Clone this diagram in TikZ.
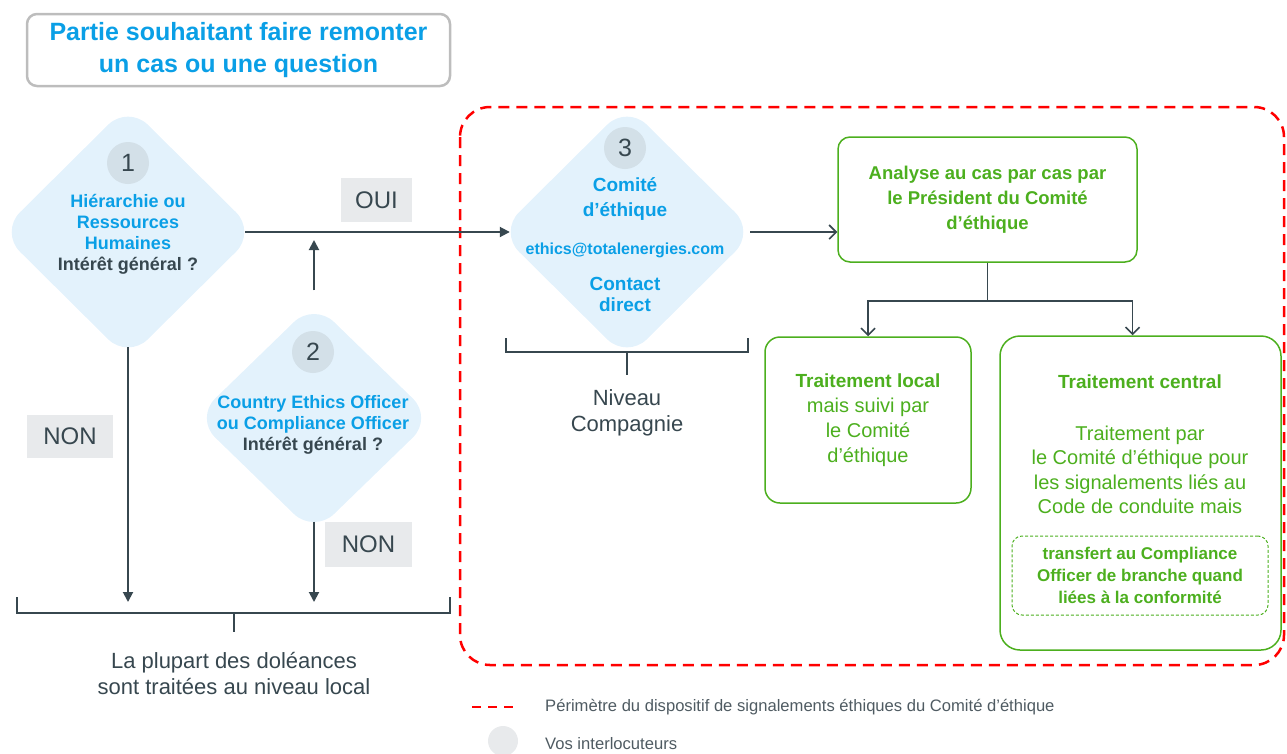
\documentclass[tikz,border=0pt]{standalone}
\usepackage{fontspec}
\setmainfont{Liberation Sans}
\usetikzlibrary{shapes.geometric,arrows.meta,positioning}
\definecolor{bleu}{HTML}{0A9FE6}
\definecolor{gristexte}{HTML}{37474F}
\definecolor{grislegende}{HTML}{4F5B62}
\definecolor{vert}{HTML}{4CAF1E}
\definecolor{losange}{HTML}{E3F2FC}
\definecolor{pastille}{HTML}{D3E0E8}
\definecolor{etiquette}{HTML}{E8EAEC}
\definecolor{cadre}{HTML}{BDBDBD}
\tikzset{
  losangebox/.style={diamond, fill=losange, rounded corners=28pt, inner sep=0pt},
  losangetexte/.style={align=center, text=bleu, font=\bfseries\fontsize{18}{21}\selectfont},
  pastillebox/.style={circle, fill=pastille, minimum size=42pt, inner sep=0pt, text=gristexte, font=\fontsize{25}{25}\selectfont},
  ouinon/.style={fill=etiquette, text=gristexte, font=\fontsize{24}{24}\selectfont, inner sep=0pt},
  titrebox/.style={draw=cadre, line width=2.5pt, rounded corners=10pt, align=center, text=bleu,
    font=\bfseries\fontsize{25}{32}\selectfont, minimum width=423pt, minimum height=72pt},
  vertbox/.style={draw=vert, line width=1.5pt, rounded corners=12pt, text=vert, align=center},
  fleche/.style={draw=gristexte, line width=1.9pt, -{Triangle[length=10pt,width=10pt]}},
  flecheouverte/.style={draw=gristexte, line width=1.6pt, -{Straight Barb[length=7pt,width=14pt]}},
  trait/.style={draw=gristexte, line width=1.9pt},
  perimetre/.style={draw=red, line width=2.5pt, dash pattern=on 11pt off 7pt},
  legende/.style={anchor=west, inner sep=0pt, text=grislegende, font=\fontsize{16.6}{16.6}\selectfont}
}
\begin{document}
\begin{tikzpicture}[x=1pt,y=-1pt]
  \useasboundingbox (0,0) rectangle (1287,753);

  \node[titrebox] (titre) at (238.5,50) {Partie souhaitant faire remonter\\un cas ou une question};

  \draw[perimetre,rounded corners=30pt] (460,107) rectangle (1284,665);

  \node[losangebox,minimum width=256pt,minimum height=254pt] (d1) at (128,232) {};
  \node[losangebox,minimum width=238pt,minimum height=231pt] (d2) at (314,418) {};
  \node[losangebox,minimum width=256pt,minimum height=254pt] (d3) at (627,232) {};

  \node[pastillebox] (p1) at (128,163) {1};
  \node[pastillebox] (p2) at (313,352) {2};
  \node[pastillebox] (p3) at (625,148) {3};

  \node[losangetexte] (t1) at (128,234) {Hiérarchie ou\\Ressources\\Humaines\\\textcolor{gristexte}{Intérêt général ?}};
  \node[losangetexte] (t2) at (313,425) {Country Ethics Officer\\ou Compliance Officer\\\textcolor{gristexte}{Intérêt général ?}};
  \node[losangetexte,font=\bfseries\fontsize{19}{25}\selectfont] (t3a) at (625,199) {Comité\\d’éthique};
  \node[losangetexte,font=\bfseries\fontsize{16}{20}\selectfont] (t3b) at (625,250) {ethics@totalenergies.com};
  \node[losangetexte,font=\bfseries\fontsize{19}{21}\selectfont] (t3c) at (625,294) {Contact\\direct};

  \node[ouinon,minimum width=71pt,minimum height=44pt] (oui) at (376.5,200) {OUI};
  \node[ouinon,minimum width=86pt,minimum height=43pt] (non1) at (70,436.5) {NON};
  \node[ouinon,minimum width=87pt,minimum height=45pt] (non2) at (368.5,544.5) {NON};

  \coordinate (jonction) at (d2.north |- d1.east);
  \coordinate (accolade1) at (234,613);
  \coordinate (accolade2) at (627,352);

  \draw[fleche,shorten <=-11pt,shorten >=-11pt] (d1.east) -- (d3.west);
  \draw[fleche,shorten <=12pt,shorten >=8pt] (d2.north) -- (jonction);
  \draw[fleche,shorten <=-12pt,shorten >=11pt] (d1.south) -- (d1.south |- accolade1);
  \draw[fleche,shorten <=-12pt,shorten >=11pt] (d2.south) -- (d2.south |- accolade1);

  \draw[trait] (17,597) |- (450,613) -- (450,597);
  \draw[trait] (accolade1) -- ++(0,19);
  \node[align=center,text=gristexte,font=\fontsize{22}{26}\selectfont] (plupart) at (234,673) {La plupart des doléances\\sont traitées au niveau local};

  \draw[trait] (506,338) |- (748,352) -- (748,338);
  \draw[trait] (accolade2) -- ++(0,23);
  \node[align=center,text=gristexte,font=\fontsize{22}{26}\selectfont] (niveau) at (627,413) {Niveau\\Compagnie};

  \node[vertbox,font=\bfseries\fontsize{18.5}{25}\selectfont,minimum width=299pt,minimum height=125pt] (analyse) at (987.5,199.5) {Analyse au cas par cas par\\le Président du Comité\\d’éthique};
  \node[vertbox,rounded corners=15pt,minimum width=206pt,minimum height=166pt,font=\fontsize{20}{25}\selectfont] (local) at (868,420) {{\bfseries\fontsize{19}{25}\selectfont Traitement local}\\mais suivi par\\le Comité\\d’éthique};
  \node[vertbox,rounded corners=20pt,minimum width=281pt,minimum height=314pt] (central) at (1140.5,493) {};
  \node[text=vert,font=\bfseries\fontsize{19}{24}\selectfont] (centraltitre) at (1140,382) {Traitement central};
  \node[text=vert,align=center,font=\fontsize{20}{24.5}\selectfont] (centraltexte) at (1140,470) {Traitement par\\le Comité d’éthique pour\\les signalements liés au\\Code de conduite mais};
  \node[vertbox,line width=1pt,dash pattern=on 3pt off 2pt,rounded corners=10pt,minimum width=256pt,minimum height=79pt,font=\bfseries\fontsize{17}{22}\selectfont] (transfert) at (1140,575.5) {transfert au Compliance\\Officer de branche quand\\liées à la conformité};

  \draw[flecheouverte,shorten <=-5pt] (d3.east) -- (d3.east -| analyse.west);
  \draw[trait,line width=1.7pt] (analyse.south) -- ++(0,38) coordinate (fourche);
  \draw[flecheouverte] (fourche) -| (local.north);
  \draw[flecheouverte] (fourche) -| ([xshift=-8pt]central.north);

  \coordinate (legende1a) at (472,707);
  \coordinate (legende1b) at (514,707);
  \draw[perimetre,dash pattern=on 9pt off 7pt] (legende1a) -- (legende1b);
  \node[legende] (legendetexte1) at (545,707) {Périmètre du dispositif de signalements éthiques du Comité d’éthique};
  \node[circle,fill=etiquette,minimum size=30pt,inner sep=0pt] (legendepastille) at (503,741) {};
  \node[legende] (legendetexte2) at (545,744) {Vos interlocuteurs};
\end{tikzpicture}
\end{document}
